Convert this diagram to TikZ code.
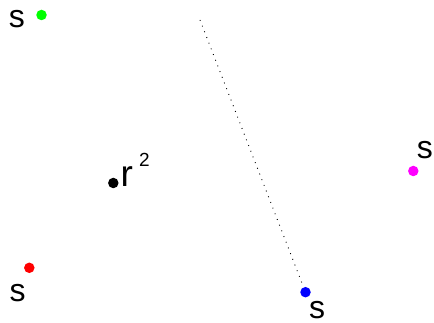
\documentclass[tikz,border=0pt]{standalone}
\usepackage{fontspec}
\setmainfont{Liberation Sans}
\definecolor{mag}{RGB}{255,0,255}
\definecolor{grn}{RGB}{0,255,0}
\definecolor{rd}{RGB}{255,0,0}
\definecolor{bl}{RGB}{0,0,255}
\begin{document}
\begin{tikzpicture}[x=1pt,y=-1pt,
  pt/.style={circle,inner sep=0pt,minimum size=10.5pt,fill=#1},
  lbl/.style={inner sep=0pt,font=\fontsize{32}{32}\selectfont},
  rlbl/.style={inner sep=0pt,font=\fontsize{37}{37}\selectfont},
  sup/.style={inner sep=0pt,font=\fontsize{19}{19}\selectfont}]
\useasboundingbox (0,0) rectangle (434,323);
\node[pt=grn] (g) at (41.5,15) {};
\node[lbl] (gs) at (17,19.3) {s};
\node[pt=black] (k) at (113.3,183) {};
\node[rlbl] (kr) at (126.8,176.7) {r};
\node[sup] (k2) at (144.5,160) {2};
\node[pt=rd] (r) at (29.3,267.8) {};
\node[lbl] (rs) at (17.5,293) {s};
\node[pt=bl] (b) at (305.5,292.2) {};
\node[lbl] (bs) at (317,310) {s};
\node[pt=mag] (m) at (413.3,171) {};
\node[lbl] (ms) at (424.8,150) {s};
\coordinate (top) at (200,20);
\draw[line width=0.9pt,dash pattern=on 0.9pt off 5.2pt] (top) -- (b);
\end{tikzpicture}
\end{document}
